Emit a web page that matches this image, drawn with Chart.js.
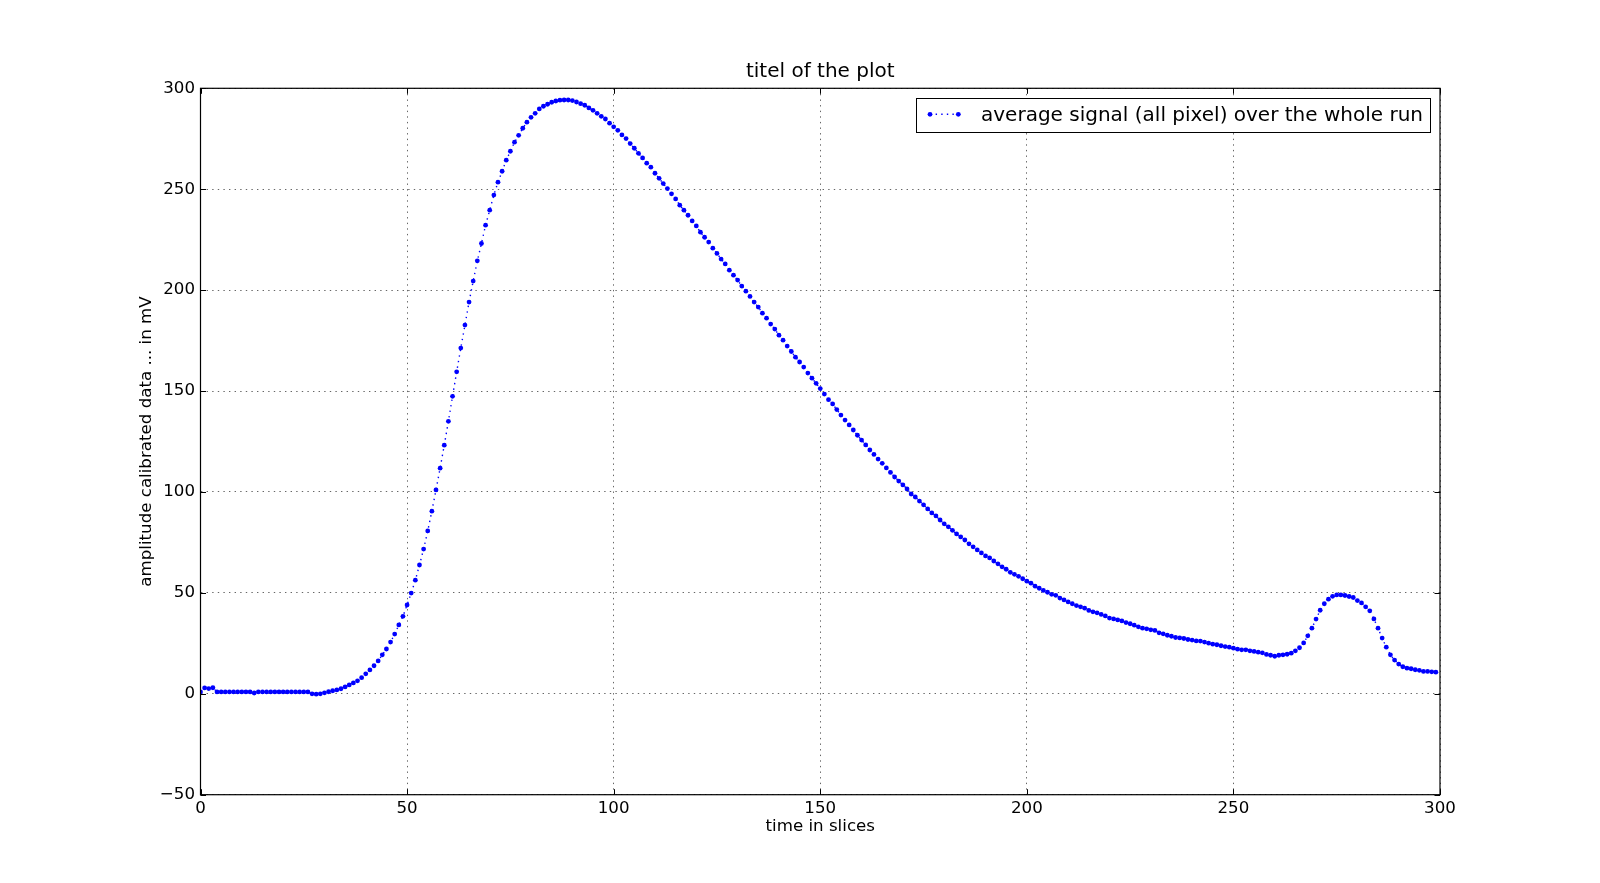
<!DOCTYPE html>
<html>
<head>
<meta charset="utf-8">
<script src="https://cdn.jsdelivr.net/npm/chart.js@4.4.0/dist/chart.umd.min.js"></script>
<style>
html,body{margin:0;padding:0;background:#ffffff;}
#wrap{width:1600px;height:883px;position:relative;}
</style>
</head>
<body>
<div id="wrap"><canvas id="c" width="1600" height="883"></canvas></div>
<script>
const chartTitle = 'titel of the plot';
const xAxisTitle = 'time in slices';
const yAxisTitle = 'amplitude calibrated data ... in mV';
const seriesName = 'average signal (all pixel) over the whole run';
const xTickValues = [0, 50, 100, 150, 200, 250, 300];
const yTickValues = [-50, 0, 50, 100, 150, 200, 250, 300];

const avgSignal = [
  0.9, 2.9, 2.6, 3.0, 0.9, 0.9, 0.9, 0.9, 0.9, 0.9,
  0.9, 0.9, 0.9, 0.4, 0.9, 0.9, 0.9, 0.9, 0.9, 0.9,
  0.9, 0.9, 0.9, 0.9, 0.9, 0.9, 0.9, 0.0, -0.2, 0.0,
  0.5, 1.0, 1.5, 1.9, 2.5, 3.4, 4.4, 5.4, 6.4, 8.0,
  9.9, 11.8, 13.9, 16.3, 19.3, 22.2, 25.6, 29.6, 34.1, 38.4,
  44.0, 49.9, 56.3, 63.8, 71.7, 80.7, 90.5, 101.0, 111.8, 123.2,
  135.0, 147.4, 159.5, 171.3, 182.7, 194.1, 204.5, 214.5, 223.1, 232.2,
  239.6, 247.1, 253.5, 258.9, 264.4, 268.8, 273.3, 276.7, 280.2, 283.2,
  285.6, 287.6, 289.8, 291.1, 292.1, 293.1, 293.7, 294.1, 294.2, 294.2,
  293.9, 293.2, 292.4, 291.6, 290.3, 289.1, 287.6, 286.1, 284.8, 282.7,
  280.9, 279.2, 276.9, 275.1, 272.6, 270.3, 267.8, 265.5, 262.9, 260.9,
  257.9, 255.4, 252.8, 250.3, 247.7, 245.2, 242.1, 239.6, 237.1, 234.3,
  231.8, 228.7, 226.2, 223.8, 220.8, 218.2, 215.4, 213.0, 209.9, 207.4,
  205.0, 202.0, 199.5, 196.9, 194.1, 191.6, 188.6, 186.1, 183.2, 180.7,
  177.7, 175.2, 172.3, 169.6, 166.8, 164.4, 161.9, 158.9, 156.4, 153.8,
  151.2, 148.5, 145.7, 143.6, 140.8, 138.1, 135.6, 133.2, 130.7, 128.1,
  125.7, 123.3, 120.8, 118.6, 116.3, 114.2, 111.9, 109.7, 107.4, 105.4,
  103.5, 101.5, 99.0, 97.5, 95.5, 93.6, 91.6, 89.6, 88.1, 86.1,
  84.2, 82.7, 81.0, 79.2, 77.7, 76.2, 74.3, 72.8, 71.3, 69.8,
  68.3, 67.3, 65.8, 64.4, 62.9, 61.7, 60.2, 59.2, 58.2, 57.0,
  55.8, 54.8, 53.3, 52.3, 51.2, 50.3, 49.3, 48.8, 47.4, 46.5,
  45.5, 44.6, 43.7, 43.1, 42.4, 41.3, 40.6, 40.1, 39.3, 38.6,
  37.5, 37.1, 36.6, 36.1, 35.3, 34.7, 34.0, 33.2, 32.5, 32.2,
  31.7, 31.4, 30.2, 29.7, 29.0, 28.5, 27.9, 27.7, 27.4, 26.9,
  26.6, 26.2, 26.1, 25.6, 25.1, 24.6, 24.3, 23.8, 23.4, 23.1,
  22.6, 22.1, 21.8, 21.8, 21.3, 21.0, 20.6, 20.3, 19.5, 19.1,
  18.6, 19.1, 19.3, 19.6, 20.1, 21.3, 22.8, 25.2, 28.7, 32.5,
  37.0, 41.4, 44.6, 46.9, 48.3, 49.0, 49.0, 48.7, 48.2, 47.7,
  46.2, 45.0, 43.1, 41.1, 37.1, 32.5, 27.6, 23.1, 19.3, 16.7,
  14.7, 13.4, 12.7, 12.4, 11.9, 11.6, 11.1, 11.1, 10.9, 10.7
];
const timeSlices = avgSignal.map((_, i) => i);

const FONT = "'DejaVu Sans', sans-serif";
const BLUE = '#0000ff';

const mplPlugin = {
  id: 'mplDecor',
  afterDraw(chart) {
    const ctx = chart.ctx;
    const a = chart.chartArea;
    const xs = chart.scales.x, ys = chart.scales.y;
    ctx.save();
    // frame
    ctx.strokeStyle = '#000';
    ctx.lineWidth = 1.2;
    ctx.setLineDash([]);
    ctx.strokeRect(a.left, a.top, a.right - a.left, a.bottom - a.top);
    // inward ticks on all four sides
    ctx.lineWidth = 1;
    const tl = 5.5;
    ctx.beginPath();
    xTickValues.forEach(v => {
      const px = Math.round(xs.getPixelForValue(v)) + 0.5;
      ctx.moveTo(px, a.bottom); ctx.lineTo(px, a.bottom - tl);
      ctx.moveTo(px, a.top); ctx.lineTo(px, a.top + tl);
    });
    yTickValues.forEach(v => {
      const py = Math.round(ys.getPixelForValue(v)) + 0.5;
      ctx.moveTo(a.left, py); ctx.lineTo(a.left + tl, py);
      ctx.moveTo(a.right, py); ctx.lineTo(a.right - tl, py);
    });
    ctx.stroke();
    // title
    ctx.fillStyle = '#000';
    ctx.textAlign = 'center';
    ctx.textBaseline = 'alphabetic';
    ctx.font = '20px ' + FONT;
    const cx = (a.left + a.right) / 2;
    ctx.fillText(chartTitle, cx, a.top - 11.8);
    // x axis title
    ctx.font = '16.67px ' + FONT;
    ctx.fillText(xAxisTitle, cx, a.bottom + 35.8);
    // y axis title
    ctx.save();
    ctx.translate(a.left - 49.5, (a.top + a.bottom) / 2);
    ctx.rotate(-Math.PI / 2);
    ctx.fillText(yAxisTitle, 0, 0);
    ctx.restore();
    // legend
    ctx.font = '20px ' + FONT;
    const tw = ctx.measureText(seriesName).width;
    const boxRight = a.right - 9.4;
    const boxLeft = boxRight - 7.6 - tw - 64.7;
    const boxTop = a.top + 10;
    const boxH = 34.4;
    ctx.fillStyle = '#fff';
    ctx.fillRect(boxLeft, boxTop, boxRight - boxLeft, boxH);
    ctx.strokeStyle = '#000';
    ctx.lineWidth = 1;
    ctx.strokeRect(Math.round(boxLeft) + 0.5, Math.round(boxTop) + 0.5, Math.round(boxRight - boxLeft), Math.round(boxH));
    const ly = boxTop + 16;
    ctx.strokeStyle = BLUE;
    ctx.lineWidth = 1.4;
    ctx.setLineDash([1.4, 4.2]);
    ctx.beginPath();
    ctx.moveTo(boxLeft + 13.7, ly); ctx.lineTo(boxLeft + 42, ly);
    ctx.stroke();
    ctx.setLineDash([]);
    ctx.fillStyle = BLUE;
    [13.7, 42].forEach(dx => {
      ctx.beginPath(); ctx.arc(boxLeft + dx, ly, 2.4, 0, Math.PI * 2); ctx.fill();
    });
    ctx.fillStyle = '#000';
    ctx.textAlign = 'left';
    ctx.fillText(seriesName, boxLeft + 64.7, boxTop + 22.7);
    ctx.restore();
  }
};

const tickFont = { family: FONT, size: 16.67 };

new Chart(document.getElementById('c').getContext('2d'), {
  type: 'line',
  data: {
    labels: timeSlices,
    datasets: [{
      label: seriesName,
      data: avgSignal,
      borderColor: BLUE,
      backgroundColor: BLUE,
      borderWidth: 1.4,
      borderDash: [1.4, 4.2],
      pointRadius: 2.4,
      pointBorderWidth: 0,
      pointBackgroundColor: BLUE,
      tension: 0,
      fill: false,
      clip: 0
    }]
  },
  options: {
    responsive: false,
    animation: false,
    devicePixelRatio: 1,
    events: [],
    layout: { padding: { left: 0, top: 88.3, right: 160, bottom: 48.3 } },
    plugins: { legend: { display: false }, title: { display: false }, tooltip: { enabled: false } },
    scales: {
      x: {
        type: 'linear',
        min: 0, max: 300,
        afterBuildTicks: s => { s.ticks = xTickValues.map(v => ({ value: v })); },
        afterFit: s => { s.height = 40; },
        grid: { color: 'rgba(0,0,0,0.6)', lineWidth: 1, drawTicks: false },
        border: { display: false, dash: [1.4, 4.2] },
        ticks: { padding: 4, color: '#000', font: tickFont, maxRotation: 0, autoSkip: false }
      },
      y: {
        type: 'linear',
        min: -50, max: 300,
        afterBuildTicks: s => { s.ticks = yTickValues.map(v => ({ value: v })); },
        afterFit: s => { s.width = 200.5; },
        grid: { color: 'rgba(0,0,0,0.6)', lineWidth: 1, drawTicks: false },
        border: { display: false, dash: [1.4, 4.2] },
        ticks: {
          padding: 5.5, color: '#000', font: tickFont, autoSkip: false,
          callback: v => (v < 0 ? '\u2212' + Math.abs(v) : String(v))
        }
      }
    }
  },
  plugins: [mplPlugin]
});
</script>
</body>
</html>
